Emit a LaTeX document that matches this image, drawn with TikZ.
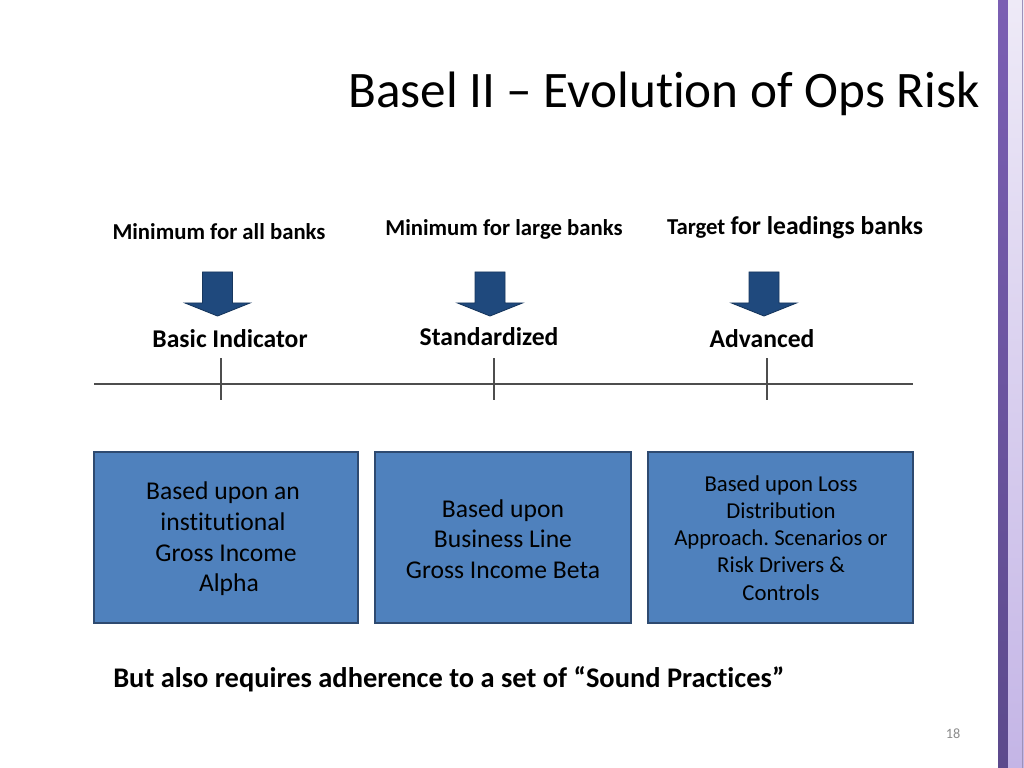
\documentclass[tikz,border=0pt]{standalone}
\usepackage{fontspec}
\setmainfont{Carlito}[Ligatures={TeX,NoCommon}]
\definecolor{boxblue}{HTML}{4F81BD}
\definecolor{boxedge}{HTML}{2E4A70}
\definecolor{arrowblue}{HTML}{1F497D}
\definecolor{arrowedge}{HTML}{17375E}
\definecolor{barpurpleA}{HTML}{7B5FB3}
\definecolor{barpurpleB}{HTML}{5C4A8C}
\definecolor{barlightA}{HTML}{EEEAF7}
\definecolor{barlightB}{HTML}{C4B5E6}
\definecolor{linegray}{HTML}{4D4D4D}
\definecolor{numgray}{HTML}{8C8C8C}
\frenchspacing
\begin{document}
\begin{tikzpicture}[x=0.703125pt,y=-0.703125pt,
  lbl/.style={inner sep=0pt,anchor=base,font=\bfseries\fontsize{16}{19}\selectfont},
  method/.style={inner sep=0pt,anchor=base,font=\bfseries\fontsize{18}{22}\selectfont},
  bluebox/.style={draw=boxedge,fill=boxblue,line width=0.8pt,align=center,
     minimum width=264*0.703125pt,minimum height=171*0.703125pt,inner sep=2pt},
  boxtxt/.style={font=\fontsize{18}{21.6}\selectfont},
  smallboxtxt/.style={font=\fontsize{16}{19.1}\selectfont},
  axis/.style={draw=linegray,line width=1pt},
  blockdown/.pic={\draw[fill=arrowblue,draw=arrowedge,line width=0.6pt]
     (-15,0) -- (15,0) -- (15,31) -- (32.5,31) -- (0,44) -- (-32.5,31) -- (-15,31) -- cycle;}
]
\useasboundingbox (0,0) rectangle (1024,768);
\fill[white] (0,0) rectangle (1024,768);
% side decoration
\shade[top color=barpurpleA,bottom color=barpurpleB] (998,0) rectangle (1008,768);
\shade[top color=barlightA,bottom color=barlightB] (1008,0) rectangle (1024,768);
\draw[barpurpleB!60,line width=0.4pt] (1022.5,0) -- (1022.5,768);

% title
\node[inner sep=0pt,anchor=base,font=\fontsize{36}{43}\selectfont] (title) at (664,108)
  {Basel II \textendash{} Evolution of Ops Risk};

% top labels
\node[lbl] (l1) at (219,240) {Minimum for all banks};
\node[lbl] (l2) at (504,236) {Minimum for large banks};
\node[lbl] (l3) at (795,235) {Target {\fontsize{18}{22}\selectfont for leadings banks}};

% block arrows
\pic at (217.5,272) {blockdown};
\pic at (490,272) {blockdown};
\pic at (764,272) {blockdown};

% method names
\node[method] (m1) at (230,347) {Basic Indicator};
\node[method] (m2) at (489,346) {Standardized};
\node[method] (m3) at (762,347) {Advanced};

% axis with ticks
\coordinate (axL) at (94,384);
\coordinate (axR) at (913,384);
\coordinate (t1a) at (221,358); \coordinate (t1b) at (221,400);
\coordinate (t2a) at (494,358); \coordinate (t2b) at (494,400);
\coordinate (t3a) at (767,358); \coordinate (t3b) at (767,400);
\draw[axis] (axL) -- (axR);
\draw[axis] (t1a) -- (t1b);
\draw[axis] (t2a) -- (t2b);
\draw[axis] (t3a) -- (t3b);

% boxes
\node[bluebox] (b1) at (226,537.5) {};
\node[boxtxt,align=center,inner sep=0pt] (b1t) at (223,539)
  {Based upon an\\institutional\\\hspace{4.2pt}Gross Income\\\hspace{8.4pt}Alpha};
\node[bluebox,minimum width=256*0.703125pt] (b2) at (503,537.5) {};
\node[boxtxt,align=center,inner sep=0pt] (b2t) at (503,539)
  {Based upon\\Business Line\\Gross Income Beta};
\node[bluebox,minimum width=265*0.703125pt] (b3) at (780.5,537.5) {};
\node[smallboxtxt,align=center,inner sep=0pt] (b3t) at (781,538)
  {Based upon Loss\\Distribution\\Approach. Scenarios or\\Risk Drivers \&\\Controls};

% bottom text
\node[inner sep=0pt,anchor=base west,font=\bfseries\fontsize{20}{24}\selectfont] (note) at (113,687)
  {But also requires adherence to a set of “Sound Practices”};

% page number
\node[inner sep=0pt,anchor=base,text=numgray,font=\fontsize{10}{12}\selectfont] (pg) at (953,738) {18};
\end{tikzpicture}
\end{document}
